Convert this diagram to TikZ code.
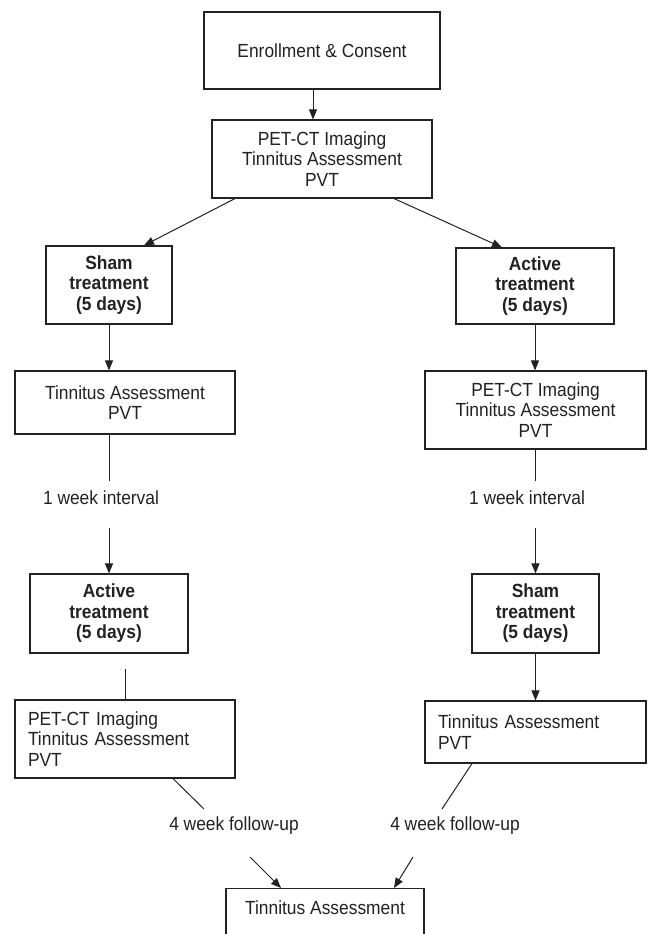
\documentclass[tikz,border=0pt]{standalone}
\usepackage{fontspec}
\setmainfont[FakeStretch=0.915]{Liberation Sans}
\usetikzlibrary{arrows.meta,calc}
\definecolor{ink}{HTML}{222222}
\begin{document}
\begin{tikzpicture}[x=1pt,y=-1pt,
  every node/.style={text=ink, font=\fontsize{19}{20.5}\selectfont},
  box/.style={draw=ink, line width=1.1pt, inner sep=0pt, align=center},
  bbox/.style={box, font=\fontsize{19}{20.5}\selectfont\bfseries},
  lbox/.style={box, align=left, inner xsep=13pt, inner ysep=0pt},
  lab/.style={inner sep=0pt},
  conn/.style={draw=ink, line width=1pt},
  arr/.style={conn, -{Triangle[length=10pt,width=8pt]}}]
\useasboundingbox (0,0) rectangle (649,934);
\clip (0,0) rectangle (649,934);
\fill[white] (0,0) rectangle (649,934);

% boxes
\node[box, minimum width=236pt, minimum height=77pt] (enroll) at (322,50.5) {Enrollment \& Consent};
\node[box, minimum width=220pt, minimum height=78pt] (pet1) at (322,159) {PET-CT Imaging\\Tinnitus Assessment\\PVT};
\node[bbox, minimum width=126pt, minimum height=78pt] (sham1) at (109,285) {Sham\\treatment\\(5 days)};
\node[bbox, minimum width=158pt, minimum height=76pt] (active1) at (535,286) {Active\\treatment\\(5 days)};
\node[box, minimum width=220pt, minimum height=63pt] (tin1) at (125,402.5) {Tinnitus Assessment\\PVT};
\node[box, minimum width=221pt, minimum height=78pt] (pet2) at (535.5,410) {PET-CT Imaging\\Tinnitus Assessment\\PVT};
\node[bbox, minimum width=158pt, minimum height=79pt] (active2) at (109,613.5) {Active\\treatment\\(5 days)};
\node[bbox, minimum width=127pt, minimum height=79pt] (sham2) at (535.5,613.5) {Sham\\treatment\\(5 days)};
\node[lbox, text width=194pt, minimum height=78pt] (pet3) at (125,739) {PET-CT Imaging\\Tinnitus Assessment\\PVT};
\node[lbox, text width=195pt, minimum height=62pt] (tin2) at (535.5,732) {Tinnitus Assessment\\PVT};
\node[draw=ink, line width=1.1pt, inner sep=0pt, minimum width=198pt, text height=26pt, text depth=50pt, anchor=north] (final) at (325,888) {Tinnitus Assessment};

% labels
\node[lab] (wk1) at (101,498) {1 week interval};
\node[lab] (wk2) at (527,498) {1 week interval};
\node[lab] (fu1) at (234,826) {4 week follow-up};
\node[lab] (fu2) at (455,826) {4 week follow-up};

% connectors
\draw[arr] ([xshift=-9pt]enroll.south) -- ([xshift=-9pt]pet1.north);
\draw[arr] ([xshift=-87pt]pet1.south) -- ([xshift=35pt]sham1.north);
\draw[arr] ([xshift=72pt]pet1.south) -- ([xshift=-33pt]active1.north);
\draw[arr] (sham1.south) -- (sham1.south |- tin1.north);
\draw[arr] (active1.south) -- (active1.south |- pet2.north);
\draw[conn] (tin1.south -| active2.north) -- ($(wk1.center -| active2.north)+(0,-17)$);
\draw[arr] ($(wk1.center -| active2.north)+(0,30)$) -- (active2.north);
\draw[conn] (pet2.south -| sham2.north) -- ($(wk2.center -| sham2.north)+(0,-17)$);
\draw[arr] ($(wk2.center -| sham2.north)+(0,30)$) -- (sham2.north);
\draw[conn] ($(active2.south -| pet3.north)+(0,15)$) -- (pet3.north);
\draw[arr] (sham2.south) -- (sham2.south |- tin2.north);
\draw[conn] ([xshift=48pt]pet3.south) -- ($(fu1.center)+(-30,-17)$);
\draw[arr] ($(fu1.center)+(16,31)$) -- ([xshift=-44pt]final.north);
\draw[conn] ([xshift=-63.5pt]tin2.south) -- ($(fu2.center)+(-13,-17)$);
\draw[arr] ($(fu2.center)+(-42,31)$) -- ([xshift=69pt]final.north);
\end{tikzpicture}
\end{document}
